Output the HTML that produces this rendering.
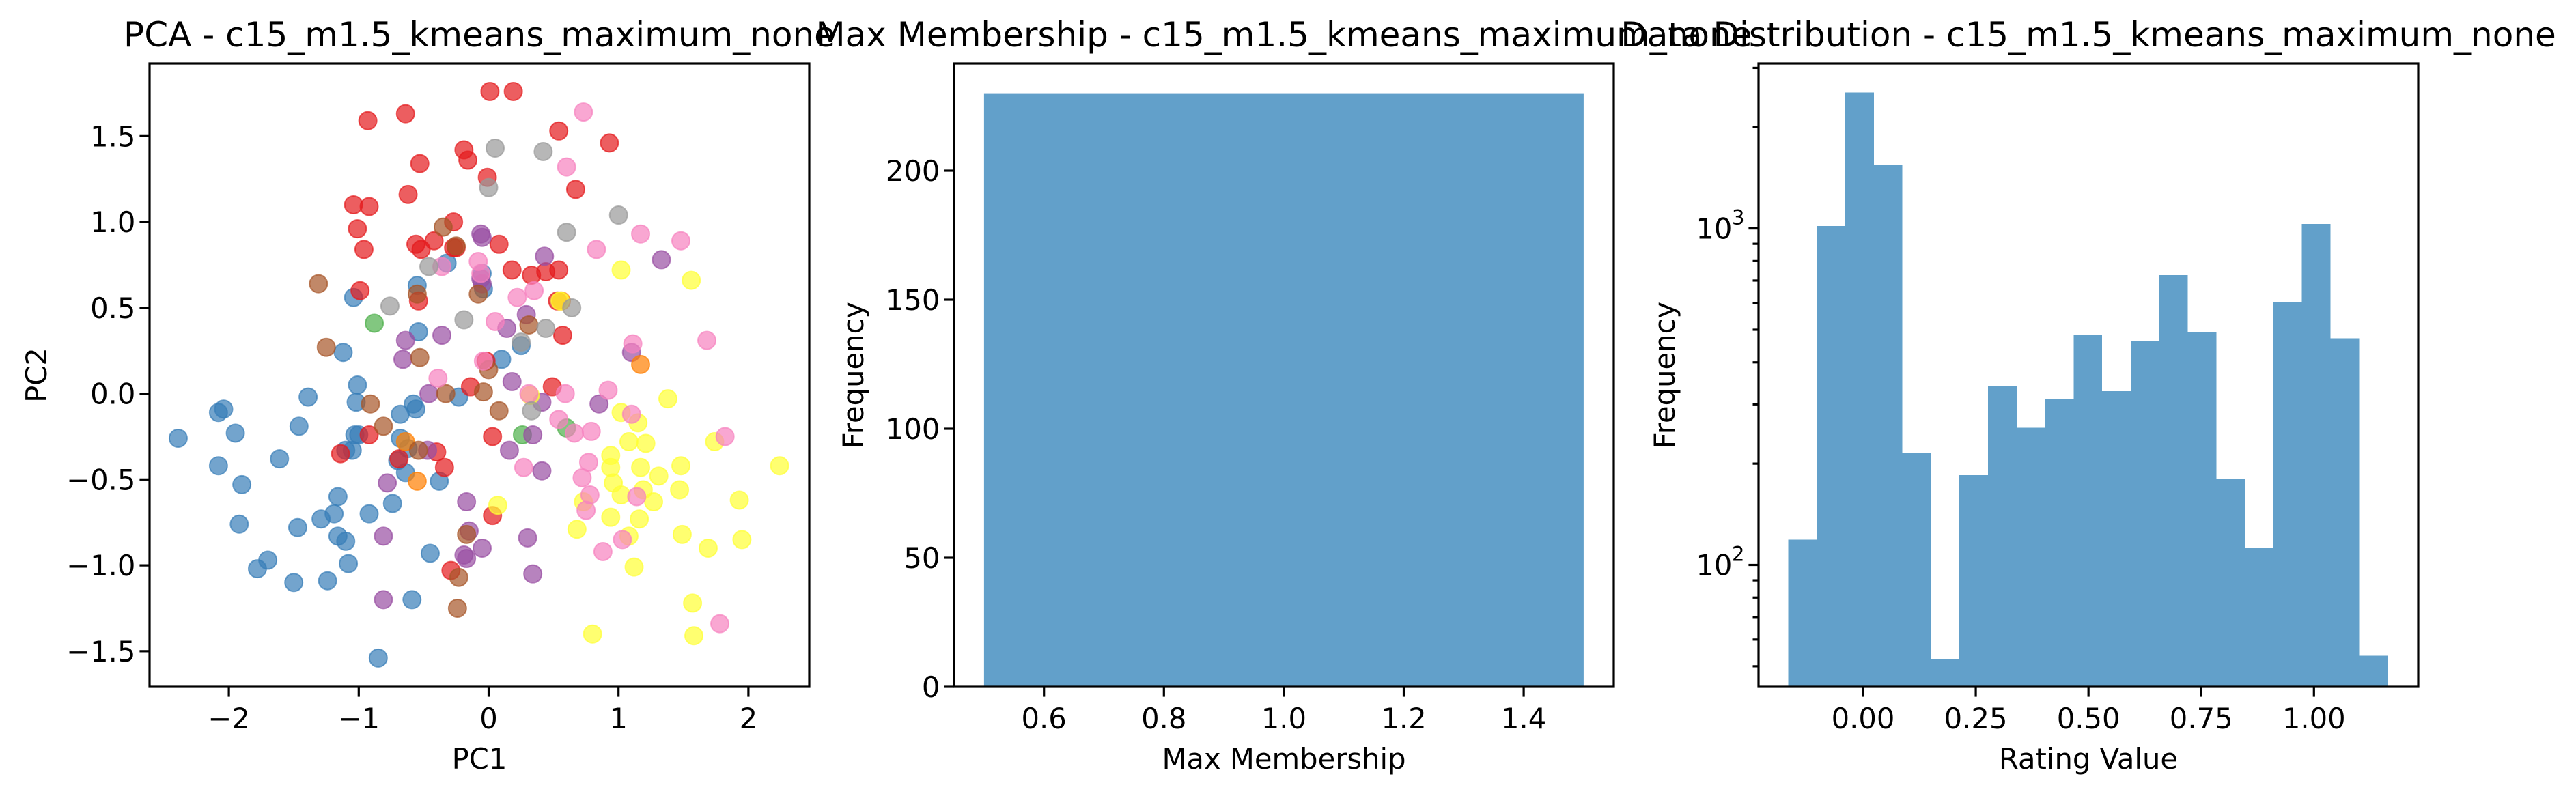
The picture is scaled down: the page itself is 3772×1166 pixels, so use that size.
<!DOCTYPE html>
<html><head><meta charset="utf-8"><style>
html,body{margin:0;padding:0;background:#fff}
svg{display:block;font-family:"DejaVu Sans","Liberation Sans",sans-serif}
</style></head><body>
<svg id="fig" width="3772" height="1166" viewBox="0 0 3772 1166" xmlns="http://www.w3.org/2000/svg">
<rect width="3772" height="1166" fill="#fff"/>
</svg>
<script>
// ---- Data ----
const redX=[0.01,0.19,-0.93,-0.64,0.54,0.93,-0.19,-0.16,-0.53,-0.01,0.67,-0.62,-1.04,-0.92,-1.01,-0.27,-0.96,0.08,-0.56,-0.42,-0.52,-0.27,0.18,0.33,0.44,0.54,-0.99,-0.54,0.53,0.57,-0.02,-0.14,0.49,0.03,-0.40,-0.34,-0.92,-1.14,-0.69,-0.29,0.03,-0.25];
const redY=[1.76,1.76,1.59,1.63,1.53,1.46,1.42,1.36,1.34,1.26,1.19,1.16,1.10,1.09,0.96,1.00,0.84,0.87,0.87,0.89,0.84,0.85,0.72,0.69,0.71,0.72,0.60,0.54,0.54,0.34,0.19,0.04,0.04,-0.25,-0.34,-0.43,-0.24,-0.35,-0.38,-1.03,-0.71,0.85];
const blueX=[-2.39,-2.08,-2.04,-1.95,-2.08,-1.90,-1.92,-1.61,-1.46,-1.39,-1.12,-1.04,-1.01,-1.02,-0.55,-0.54,-0.32,-0.05,-0.04,0.10,0.25,-0.23,-0.58,-0.56,-0.68,-1.00,-1.05,-1.10,-0.68,-0.62,-0.70,-0.64,-0.74,-0.92,-1.16,-1.19,-1.29,-1.47,-1.16,-1.10,-1.08,-1.70,-1.78,-1.50,-1.24,-0.59,-0.85,-0.45,-0.38,-1.03];
const blueY=[-0.26,-0.11,-0.09,-0.23,-0.42,-0.53,-0.76,-0.38,-0.19,-0.02,0.24,0.56,0.05,-0.05,0.63,0.36,0.76,0.70,0.61,0.20,0.28,-0.02,-0.06,-0.09,-0.12,-0.24,-0.33,-0.33,-0.26,-0.32,-0.39,-0.46,-0.64,-0.70,-0.60,-0.70,-0.73,-0.78,-0.83,-0.86,-0.99,-0.97,-1.02,-1.10,-1.09,-1.20,-1.54,-0.93,-0.51,-0.24];
const greenX=[-0.88,0.26,0.60];
const greenY=[0.41,-0.24,-0.20];
const orangeX=[-0.55,1.17,0.56,-0.64];
const orangeY=[-0.51,0.17,0.54,-0.28];
const purpleX=[-0.06,-0.05,0.43,1.33,0.29,0.14,-0.36,-0.64,-0.66,-0.05,1.10,0.18,-0.46,0.41,0.85,0.34,0.16,0.41,-0.47,-0.78,-0.17,-0.81,-0.15,-0.05,-0.19,-0.17,0.30,0.34,-0.81,-0.06];
const purpleY=[0.93,0.91,0.80,0.78,0.46,0.38,0.34,0.31,0.20,0.64,0.24,0.07,0.00,-0.05,-0.06,-0.24,-0.33,-0.45,-0.33,-0.52,-0.63,-0.83,-0.80,-0.90,-0.94,-0.96,-0.84,-1.05,-1.20,0.67];
const brownX=[-1.31,-1.25,-0.35,-0.25,-0.55,-0.08,0.31,-0.53,0.00,-0.04,-0.33,-0.91,-0.81,0.08,-0.54,-0.17,-0.23,-0.24];
const brownY=[0.64,0.27,0.97,0.86,0.58,0.58,0.40,0.21,0.14,0.01,0.00,-0.06,-0.19,-0.10,-0.33,-0.82,-1.07,-1.25];
const greyX=[0.05,0.42,0.00,1.00,0.60,-0.46,-0.76,0.64,-0.19,0.44,0.25,0.33];
const greyY=[1.43,1.41,1.20,1.04,0.94,0.74,0.51,0.50,0.43,0.38,0.30,-0.10];
const pinkX=[0.73,0.60,1.17,1.48,0.83,-0.36,-0.08,0.22,0.35,0.05,1.11,1.68,-0.04,-0.39,0.31,0.59,0.92,0.54,0.66,0.79,1.10,1.82,0.27,0.77,0.72,0.78,0.75,1.14,1.03,0.88,1.78,-0.06];
const pinkY=[1.64,1.32,0.93,0.89,0.84,0.74,0.77,0.56,0.60,0.42,0.29,0.31,0.19,0.09,0.00,0.00,0.02,-0.15,-0.23,-0.22,-0.12,-0.25,-0.43,-0.40,-0.49,-0.59,-0.68,-0.60,-0.85,-0.92,-1.34,0.70];
const yellowX=[1.02,1.56,0.55,1.38,1.02,1.15,1.08,1.21,1.74,2.24,0.94,0.94,1.17,1.48,1.31,0.96,1.02,1.19,1.47,1.27,0.73,1.93,0.07,0.94,1.16,0.68,1.49,1.08,1.95,1.69,1.12,1.57,0.80,1.58,0.32];
const yellowY=[0.72,0.66,0.54,-0.03,-0.11,-0.17,-0.28,-0.29,-0.28,-0.42,-0.36,-0.43,-0.43,-0.42,-0.48,-0.52,-0.59,-0.56,-0.56,-0.63,-0.63,-0.62,-0.65,-0.72,-0.73,-0.79,-0.82,-0.83,-0.85,-0.90,-1.01,-1.22,-1.40,-1.41,-0.01];
const pcaXTicks=[-2,-1,0,1,2];
const pcaYTicks=[-1.5,-1.0,-0.5,0.0,0.5,1.0,1.5];
const pcaYTickLabels=["\u22121.5","\u22121.0","\u22120.5","0.0","0.5","1.0","1.5"];
const pcaXTickLabels=["\u22122","\u22121","0","1","2"];

const memEdges=[0.5,1.5];
const memCounts=[230];
const memXTicks=[0.6,0.8,1.0,1.2,1.4];
const memYTicks=[0,50,100,150,200];

const distStart=-0.166;
const distWidth=0.0633;
const distCounts=[119,1017,2535,1545,215,52.6,185,340,256,311,482,328,462,726,491,180,112,603,1032,472,53.7];
const distXTicks=[0,0.25,0.5,0.75,1.0];
const distXTickLabels=["0.00","0.25","0.50","0.75","1.00"];

// ---- Helpers ----
const NS="http://www.w3.org/2000/svg";
const svg=document.getElementById('fig');
function mk(tag,attrs,parent){const e=document.createElementNS(NS,tag);for(const k in attrs)e.setAttribute(k,attrs[k]);(parent||svg).appendChild(e);return e;}
function txt(s,attrs,parent){const e=mk('text',attrs,parent);e.textContent=s;return e;}
const TOP=93,BOT=1006,TL=14.6,SW=3.2,TF=41.7,HF=50;

function frame(g,L,R){
  const r=mk('rect',{x:L,y:TOP,width:R-L,height:BOT-TOP,fill:'none',stroke:'#000','stroke-width':SW},g);
  
  
}
function xtick(g,x,label){
  const l=mk('line',{x1:x,x2:x,y1:BOT,y2:BOT+TL,stroke:'#000','stroke-width':SW},g);
  
  
  const t=txt(label,{x:x,y:BOT+61,'font-size':TF,'text-anchor':'middle'},g);
  
  
}
function ytick(g,L,y,label,len){
  const l=mk('line',{x1:L-(len||TL),x2:L,y1:y,y2:y,stroke:'#000','stroke-width':SW},g);
  
  
  if(label!==null){
    const t=txt(label,{x:L-TL-6,y:y+15,'font-size':TF,'text-anchor':'end'},g);
    
    
  }
}
function labels(g,L,R,title,xl,yl,ylx){
  const t=txt(title,{x:(L+R)/2,y:68,'font-size':HF,'text-anchor':'middle'},g);
  
  
  const x=txt(xl,{x:(L+R)/2,y:1126,'font-size':TF,'text-anchor':'middle'},g);
  
  
  const y=txt(yl,{x:ylx,y:(TOP+BOT)/2,'font-size':TF,'text-anchor':'middle',transform:`rotate(-90 ${ylx} ${(TOP+BOT)/2})`},g);
  
  
}

// ---- Panel 1: PCA scatter ----
(function(){
  const g=mk('g',{});
  
  
  const L=219,R=1185;
  const xs=v=>715.5+v*190.2, ys=v=>576.6-v*251.5;
  const series=[['blue','#377eb8',blueX,blueY],['red','#e41a1c',redX,redY],['green','#4daf4a',greenX,greenY],['purple','#984ea3',purpleX,purpleY],['orange','#ff7f00',orangeX,orangeY],['yellow','#ffff33',yellowX,yellowY],['brown','#a65628',brownX,brownY],['pink','#f781bf',pinkX,pinkY],['grey','#999999',greyX,greyY]];
  series.forEach(s=>{
    const sg=mk('g',{},g);
    
    
    s[2].forEach((v,i)=>{
      const c=mk('circle',{cx:xs(v),cy:ys(s[3][i]),r:13,fill:s[1],'fill-opacity':0.7,stroke:s[1],'stroke-opacity':0.7,'stroke-width':2},sg);
      
      
    });
  });
  frame(g,L,R);
  pcaXTicks.forEach((v,i)=>xtick(g,xs(v),pcaXTickLabels[i]));
  pcaYTicks.forEach((v,i)=>ytick(g,L,ys(v),pcaYTickLabels[i]));
  labels(g,L,R,'PCA - c15_m1.5_kmeans_maximum_none','PC1','PC2',68);
})();

// ---- Panel 2: Max membership ----
(function(){
  const g=mk('g',{});
  
  
  const L=1397,R=2363;
  const xs=v=>1397+(v-0.45)*878, ys=v=>BOT-v*3.78;
  memCounts.forEach((c,i)=>{
    const b=mk('rect',{x:xs(memEdges[i]),y:ys(c),width:xs(memEdges[i+1])-xs(memEdges[i]),height:BOT-ys(c),fill:'#1f77b4','fill-opacity':0.7},g);
    
    
  });
  frame(g,L,R);
  memXTicks.forEach(v=>xtick(g,xs(v),v.toFixed(1)));
  memYTicks.forEach(v=>ytick(g,L,ys(v),String(v)));
  labels(g,L,R,'Max Membership - c15_m1.5_kmeans_maximum_none','Max Membership','Frequency',1264);
})();

// ---- Panel 3: Data distribution (log) ----
(function(){
  const g=mk('g',{});
  
  
  const L=2575,R=3541;
  const xs=v=>2728+v*660.3, ys=v=>334.6-(Math.log10(v)-3)*492.9;
  const bars=mk('g',{'fill-opacity':0.7},g);
  
  
  distCounts.forEach((c,i)=>{
    const x0=xs(distStart+i*distWidth),x1=xs(distStart+(i+1)*distWidth);
    const b=mk('rect',{x:x0,y:ys(c),width:x1-x0,height:BOT-ys(c),fill:'#1f77b4','shape-rendering':'crispEdges'},bars);
    
    
  });
  frame(g,L,R);
  distXTicks.forEach((v,i)=>xtick(g,xs(v),distXTickLabels[i]));
  [50,60,70,80,90,200,300,400,500,600,700,800,900,2000,3000].forEach(v=>{const y=ys(v);if(y>TOP&&y<BOT)ytick(g,L,y,null,8.5);});
  [100,1000].forEach((v,i)=>{
    ytick(g,L,ys(v),null);
    const t=mk('text',{x:L-TL-24,y:ys(v)+15,'font-size':TF,'text-anchor':'end'},g);
    
    
    t.textContent='10';
    const s=txt(i?'3':'2',{x:L-TL-6,y:ys(v)-6,'font-size':29,'text-anchor':'end'},g);
    
    
  });
  labels(g,L,R,'Data Distribution - c15_m1.5_kmeans_maximum_none','Rating Value','Frequency',2452);
})();
</script>
</body></html>
